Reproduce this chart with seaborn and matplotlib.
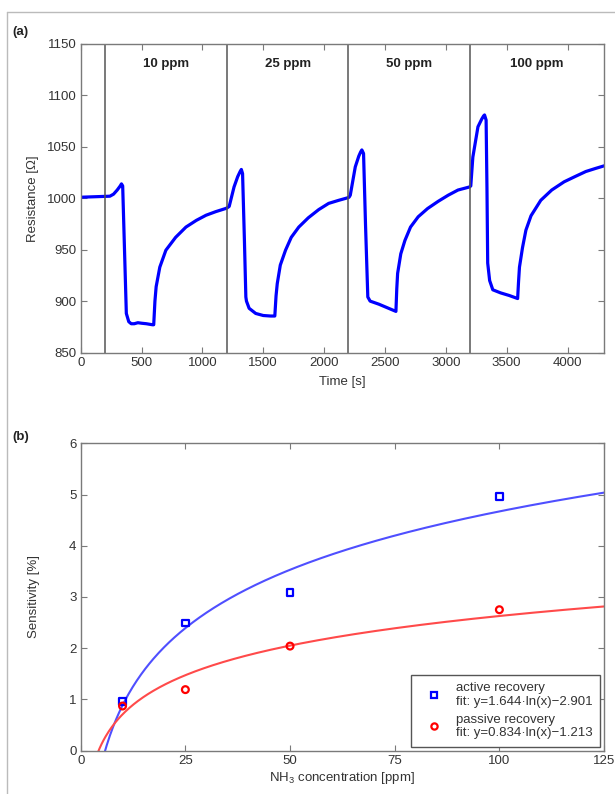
import numpy as np
import pandas as pd
import matplotlib
matplotlib.use("Agg")
import matplotlib.pyplot as plt
from matplotlib.lines import Line2D
import seaborn as sns

# Panel (a): resistance trace
time_s = [0, 120, 240, 270, 300, 325, 335, 345, 360, 375, 395, 415, 440, 470, 500, 540, 590, 600,
          610, 620, 650, 700, 780, 865, 950, 1030, 1110, 1190,
          1200, 1220, 1260, 1290, 1310, 1320, 1330, 1345, 1357, 1362, 1384, 1438, 1500, 1560, 1595,
          1605, 1615, 1640, 1683, 1730, 1792, 1870, 1956, 2037, 2120, 2195,
          2205, 2215, 2256, 2285, 2300, 2310, 2324, 2340, 2359, 2378, 2450, 2520, 2590,
          2597, 2604, 2630, 2664, 2710, 2773, 2850, 2937, 3020, 3100, 3195,
          3205, 3222, 3264, 3295, 3310, 3318, 3331, 3338, 3344, 3360, 3386, 3450, 3520, 3590,
          3597, 3605, 3630, 3658, 3700, 3780, 3870, 3972, 4060, 4150, 4230, 4300]
resistance = [1001, 1001.5, 1002, 1004, 1008, 1012, 1014, 1012, 950, 888, 880, 878, 878, 879, 878.5, 878, 877, 877,
              900, 914, 933, 949.5, 962, 972, 978.5, 983.5, 987, 990,
              990.5, 992, 1011, 1021, 1026, 1028, 1024, 960, 904, 900, 893, 888, 886, 885.5, 885.5,
              905, 917, 935, 949.5, 962, 972, 981, 989, 995, 998, 1000.5,
              1001, 1003, 1030.5, 1041, 1045, 1047, 1043.5, 975, 904, 900, 897, 893.5, 890,
              912, 927, 946, 959, 972, 982, 990, 997, 1003, 1008, 1011,
              1012, 1040, 1069.5, 1077, 1080, 1081, 1076, 1010, 937, 920, 911, 908, 905.5, 902.5,
              918, 933, 952, 969, 983, 998, 1008, 1016, 1021, 1026, 1029, 1031.5]
gas_on_s = [200, 1200, 2200, 3200]
gas_end_s = [1200, 2200, 3200, 4300]
gas_labels = ["10 ppm", "25 ppm", "50 ppm", "100 ppm"]

# Panel (b): sensitivity points and log fits from the legend
conc_ppm = [10, 25, 50, 100]
active_sens = [0.96, 2.49, 3.08, 4.96]
passive_sens = [0.87, 1.19, 2.04, 2.75]
active_fit = [1.644, -2.901]
passive_fit = [0.834, -1.213]

sns.set_style("white")
plt.rcParams['font.family'] = ['Liberation Sans', 'DejaVu Sans']
plt.rcParams['mathtext.default'] = 'regular'
plt.rcParams['font.size'] = 9.5

text_c = "#333333"
spine_c = "#7a7a7a"

fig = plt.figure(figsize=(6.15, 7.94), dpi=100)
ax1 = fig.add_axes([0.1312, 0.556, 0.851, 0.3886])
ax2 = fig.add_axes([0.1312, 0.0547, 0.851, 0.387])

# frame lines of the original figure
fig.add_artist(Line2D([0.012, 1.0], [0.9845, 0.9845], color="#bbbbbb", lw=1))
fig.add_artist(Line2D([0.012, 0.012], [0.0, 0.9845], color="#bbbbbb", lw=1))

# ----- (a) -----
df_a = pd.DataFrame({"t": time_s, "r": resistance})
sns.lineplot(data=df_a, x="t", y="r", ax=ax1, color="#0000ff", lw=2.3, estimator=None, sort=False)
for t0 in gas_on_s:
    ax1.axvline(t0, color="#555555", lw=1.1)
for t0, t1, lab in zip(gas_on_s, gas_end_s, gas_labels):
    ax1.text((t0 + t1) / 2, 1131, lab, ha="center", va="center", fontweight="bold",
             fontsize=9.5, color="#222222")
ax1.set_xlim(0, 4300)
ax1.set_ylim(850, 1150)
ax1.set_xticks(range(0, 4001, 500))
ax1.set_yticks(range(850, 1151, 50))
ax1.set_xlabel("Time [s]", color=text_c, labelpad=5)
ax1.set_ylabel("Resistance [Ω]", color=text_c)
ax1.yaxis.set_label_coords(-0.08, 0.5)

# ----- (b) -----
xs = np.linspace(1, 125, 500)
fit_df = pd.DataFrame({
    "x": np.concatenate([xs, xs]),
    "y": np.concatenate([active_fit[0] * np.log(xs) + active_fit[1],
                         passive_fit[0] * np.log(xs) + passive_fit[1]]),
    "kind": ["active"] * len(xs) + ["passive"] * len(xs),
})
sns.lineplot(data=fit_df, x="x", y="y", hue="kind", palette={"active": "#4f4fff", "passive": "#ff4a4a"},
             ax=ax2, lw=1.5, estimator=None, legend=False)
ax2.scatter(conc_ppm, active_sens, marker="s", s=24, facecolors="none", edgecolors="#0000ff",
            linewidths=1.6, zorder=3)
ax2.scatter(conc_ppm, passive_sens, marker="o", s=24, facecolors="none", edgecolors="#ff0000",
            linewidths=1.6, zorder=3)
ax2.set_xlim(0, 125)
ax2.set_ylim(0, 6)
ax2.set_xticks(range(0, 126, 25))
ax2.set_yticks(range(0, 7))
ax2.set_xlabel("NH$_3$ concentration [ppm]", color=text_c, labelpad=2)
ax2.set_ylabel("Sensitivity [%]", color=text_c)
ax2.yaxis.set_label_coords(-0.078, 0.5)

handles = [
    Line2D([], [], ls="none", marker="s", ms=4.5, mfc="none", mec="#0000ff", mew=1.6),
    Line2D([], [], ls="none", marker="o", ms=4.5, mfc="none", mec="#ff0000", mew=1.6),
]
labels = ["active recovery\nfit: y=1.644·ln(x)\u22122.901",
          "passive recovery\nfit: y=0.834·ln(x)\u22121.213"]
leg = ax2.legend(handles, labels, loc="lower right", fontsize=9.5, frameon=True, fancybox=False,
                 framealpha=1, edgecolor="#555555", borderaxespad=0.3, handletextpad=0.5,
                 labelspacing=0.45, borderpad=0.55, handlelength=2.4)
for txt in leg.get_texts():
    txt.set_color(text_c)
leg.get_frame().set_linewidth(1.0)

for ax in (ax1, ax2):
    for sp in ax.spines.values():
        sp.set_color(spine_c)
        sp.set_linewidth(1.0)
        sp.set_visible(True)
    ax.tick_params(direction="in", length=4, width=0.8, color=spine_c, labelcolor=text_c,
                   labelsize=9.5, top=True, right=True, bottom=True, left=True, pad=3)

fig.text(0.02, 0.96, "(a)", fontweight="bold", fontsize=9.5, color="#222222", ha="left", va="center")
fig.text(0.02, 0.45, "(b)", fontweight="bold", fontsize=9.5, color="#222222", ha="left", va="center")

fig.savefig("out.png", dpi=100)
